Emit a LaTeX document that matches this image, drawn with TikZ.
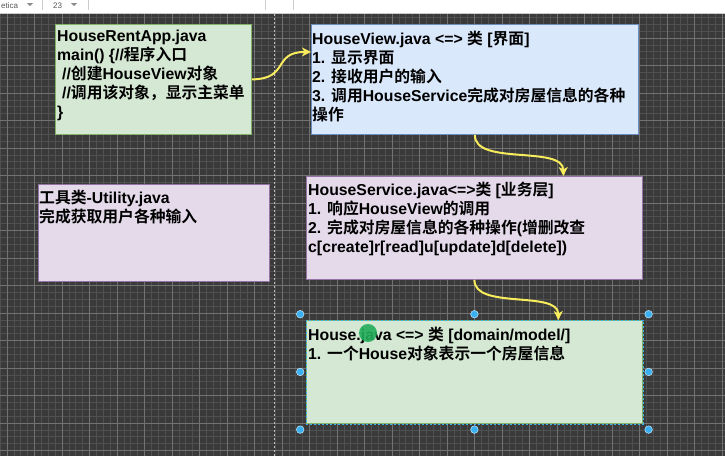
\documentclass[tikz,border=0pt]{standalone}
\usepackage{fontspec}
\setmainfont{Liberation Sans}
\newfontfamily\cjk{Noto Sans CJK SC}[BoldFont={Noto Sans CJK SC Bold}]
\newcommand{\zh}[1]{{\cjk #1}}
\usetikzlibrary{arrows.meta}

\definecolor{canvas}{HTML}{3A3A3A}
\definecolor{minorgrid}{HTML}{505050}
\definecolor{majorgrid}{HTML}{727272}
\definecolor{greenfill}{HTML}{D5E8D4}
\definecolor{greenline}{HTML}{82B366}
\definecolor{bluefill}{HTML}{DAE8FC}
\definecolor{blueline}{HTML}{6C8EBF}
\definecolor{purplefill}{HTML}{E4DAEA}
\definecolor{purpleline}{HTML}{9673A6}
\definecolor{linkyellow}{HTML}{F7EC5C}
\definecolor{handleblue}{HTML}{3AB0F0}
\definecolor{cursorgreen}{HTML}{22AD5A}

\begin{document}
\begin{tikzpicture}[x=1pt,y=-1pt,
    box/.style={draw, line width=0.8pt, anchor=north west, inner sep=0pt},
    txt/.style={anchor=north west, inner sep=0pt, align=left,
        font=\fontsize{15.8}{19}\selectfont\bfseries},
    link/.style={draw=linkyellow, line width=2pt,
        -{Stealth[length=9pt,width=9pt,inset=2.5pt]}},
    handle/.style={fill=handleblue, draw=white!70!handleblue, line width=0.5pt},
    tool/.style={inner sep=0pt, text=black!65, font=\fontsize{8}{8}\selectfont}]
\useasboundingbox (0,0) rectangle (725,456);
% canvas and grid
\fill[canvas] (0,0) rectangle (725,456);
\begin{scope}
    \clip (0,14) rectangle (725,456);
    \foreach \i in {0,...,106}
        \draw[minorgrid, line width=0.6pt] ({0.125+\i*6.875},14) -- ++(0,442);
    \foreach \j in {0,...,65}
        \draw[minorgrid, line width=0.6pt] (0,{3.625+\j*6.875}) -- ++(725,0);
    \foreach \i in {0,...,26}
        \draw[majorgrid, line width=0.8pt] ({7+\i*27.5},14) -- ++(0,442);
    \foreach \j in {0,...,16}
        \draw[majorgrid, line width=0.8pt] (0,{10.5+\j*27.5}) -- ++(725,0);
\end{scope}
\draw[black!25, line width=1pt, dash pattern=on 2pt off 2pt] (274,14) -- (274,456);
% toolbar
\fill[white] (0,0) rectangle (725,13);
\draw[black!20, line width=0.8pt] (0,13.5) -- (725,13.5);
\node[tool, anchor=base west] (font) at (1,8) {etica};
\node[tool, anchor=base west] (size) at (53,8) {23};
\fill[black!45] (27,3) -- (33,3) -- (30,6) -- cycle;
\fill[black!45] (71,3) -- (77,3) -- (74,6) -- cycle;
\foreach \s in {42,88,265,293}
    \draw[black!20] (\s,0) -- (\s,10);

% boxes
\node[box, fill=greenfill, draw=greenline, minimum width=196, minimum height=110] (app) at (55,24) {};
\node[box, fill=bluefill, draw=blueline, minimum width=327, minimum height=110] (view) at (311,24) {};
\node[box, fill=purplefill, draw=purpleline, minimum width=336, minimum height=103] (service) at (306,176) {};
\node[box, fill=greenfill, draw=greenline, minimum width=336, minimum height=103] (house) at (306,320) {};
\node[box, fill=purplefill, draw=purpleline, minimum width=231, minimum height=97] (utility) at (38,184) {};

\node[txt] (appTxt) at (57,30) {HouseRentApp.java\\
    main() \{//\zh{程序入口}\\
    \hspace*{5pt}//\zh{创建}HouseView\zh{对象}\\
    \hspace*{5pt}//\zh{调用该对象，显示主菜单}\\
    \}};
\node[txt] (viewTxt) at (312,31) {HouseView.java <=> \zh{类} [\zh{界面}]\\
    1. \zh{显示界面}\\
    2. \zh{接收用户的输入}\\
    3. \zh{调用}HouseService\zh{完成对房屋信息的各种}\\
    \zh{操作}};
\node[txt] (serviceTxt) at (308,182) {HouseService.java<=>\zh{类} [\zh{业务层}]\\
    1. \zh{响应}HouseView\zh{的调用}\\
    2. \zh{完成对房屋信息的各种操作}(\zh{增删改查}\\
    c[create]r[read]u[update]d[delete])};
\node[txt] (houseTxt) at (308,327) {House.java <=> \zh{类} [domain/model/]\\
    1. \zh{一个}House\zh{对象表示一个房屋信息}};
\node[txt] (utilityTxt) at (39,190) {\zh{工具类}-Utility.java\\
    \zh{完成获取用户各种输入}};

% links
\coordinate (viewIn) at ([yshift=27.5pt]view.west);
\coordinate (serviceIn) at ([xshift=89pt]service.north);
\coordinate (houseIn) at ([xshift=84pt]house.north);
\draw[link] (app.east) .. controls (290,79) and (272,52) .. (viewIn);
\draw[link] (view.south) .. controls (474,166) and (563,145) .. (serviceIn);
\draw[link] (service.south) .. controls (474,310) and (558,290) .. (houseIn);

% selection of the house box
\draw[handleblue, line width=0.6pt, dash pattern=on 2pt off 2pt] (house.north west) rectangle (house.south east);
\node[minimum width=348, minimum height=115, inner sep=0pt] (sel) at (house.center) {};
\foreach \a in {north west,north,north east,west,east,south west,south,south east}
    \draw[handle] (sel.\a) circle[radius=3.8pt];
\fill[cursorgreen, opacity=0.9] (368,333) circle[radius=9pt];
\end{tikzpicture}
\end{document}
